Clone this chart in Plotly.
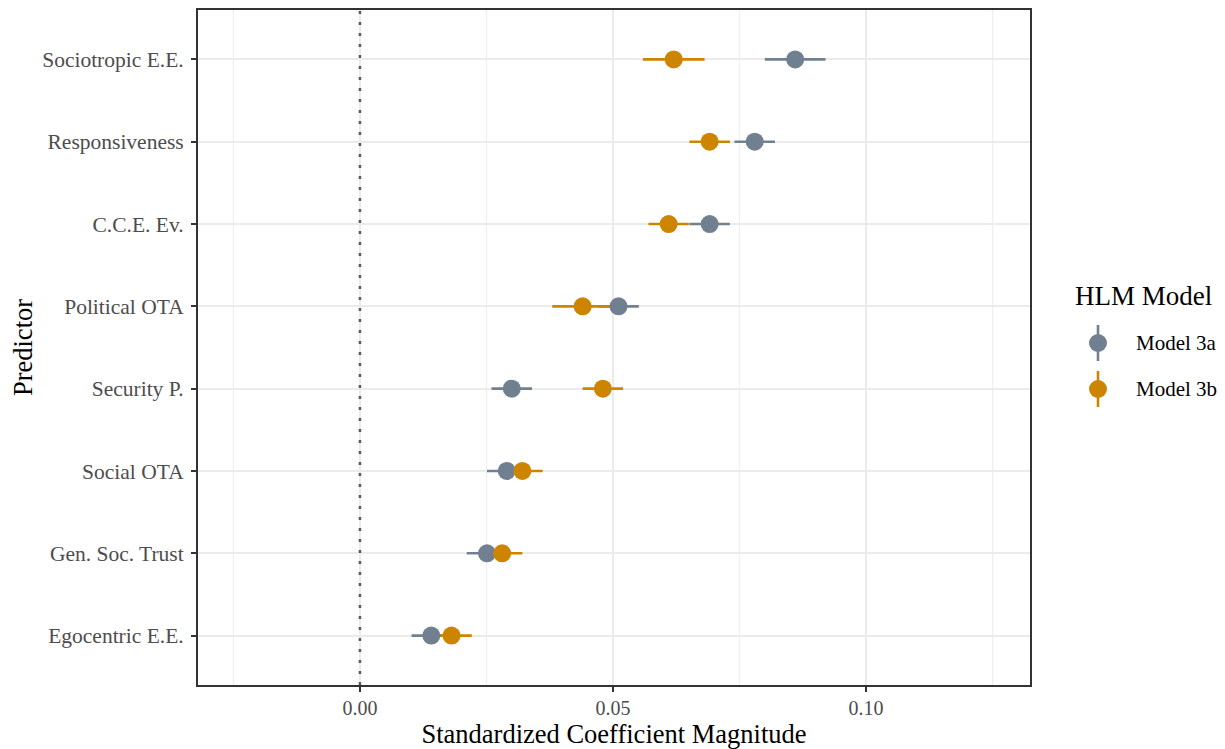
import plotly.graph_objects as go

predictors = ["Sociotropic E.E.", "Responsiveness", "C.C.E. Ev.", "Political OTA",
              "Security P.", "Social OTA", "Gen. Soc. Trust", "Egocentric E.E."]
est_3a = [0.0860, 0.0780, 0.0691, 0.0511, 0.0300, 0.0290, 0.0251, 0.0141]
err_3a = [0.0060, 0.0040, 0.0040, 0.0040, 0.0040, 0.0039, 0.0040, 0.0039]
est_3b = [0.0620, 0.0691, 0.0610, 0.0440, 0.0480, 0.0321, 0.0281, 0.0181]
err_3b = [0.0061, 0.0040, 0.0040, 0.0060, 0.0040, 0.0040, 0.0040, 0.0040]
models = ["Model 3a", "Model 3b"]
colors = ["#708090", "#CD8500"]

FONT = "Liberation Serif, Times New Roman, serif"
W, H = 1225, 749
L, R, T, B = 198, 1030, 10, 685  # plot area in pixels
ypos = list(range(len(predictors)))[::-1]  # first predictor at top


def px(x):
    return (x - L) / (R - L)


def py(y):
    return (B - y) / (B - T)


fig = go.Figure()
# error bars first (all), then points
for est, err, col in [(est_3a, err_3a, colors[0]), (est_3b, err_3b, colors[1])]:
    fig.add_trace(go.Scatter(x=est, y=ypos, mode="markers",
                             marker=dict(size=1, color="rgba(0,0,0,0)"),
                             error_x=dict(type="data", array=err, color=col,
                                          thickness=2.6, width=0),
                             showlegend=False, hoverinfo="skip"))
for est, col, name in [(est_3a, colors[0], models[0]), (est_3b, colors[1], models[1])]:
    fig.add_trace(go.Scatter(x=est, y=ypos, mode="markers", name=name,
                             marker=dict(size=18, color=col, line=dict(width=0)),
                             showlegend=False))

# dotted zero line
fig.add_shape(type="line", x0=0, x1=0, y0=0, y1=1, xref="x", yref="paper",
              line=dict(color="#5A5A5A", width=2.5, dash="3px,8px"), layer="above")

# minor grid lines
for v in [-0.025, 0.025, 0.075, 0.125]:
    fig.add_shape(type="line", x0=v, x1=v, y0=0, y1=1, xref="x", yref="paper",
                  line=dict(color="#EFEFEF", width=1.3), layer="below")

# manual legend
fig.add_annotation(x=px(1143), y=py(296), xref="paper", yref="paper",
                   text="HLM Model", showarrow=False, xanchor="center", yanchor="middle",
                   font=dict(family=FONT, size=27, color="#000000"))
for i, (name, col) in enumerate(zip(models, colors)):
    yc = 343 + i * 46
    fig.add_shape(type="line", xref="paper", yref="paper",
                  x0=px(1098), x1=px(1098), y0=py(yc - 18), y1=py(yc + 18),
                  line=dict(color=col, width=2.6))
    fig.add_shape(type="circle", xref="paper", yref="paper",
                  x0=px(1098 - 9), x1=px(1098 + 9), y0=py(yc - 9), y1=py(yc + 9),
                  fillcolor=col, line=dict(width=0))
    fig.add_annotation(x=px(1134), y=py(yc), xref="paper", yref="paper",
                       text=name, showarrow=False, xanchor="left", yanchor="middle",
                       font=dict(family=FONT, size=21, color="#000000"))

fig.update_layout(
    width=W, height=H,
    margin=dict(l=L, r=W - R, t=T, b=H - B, autoexpand=False),
    paper_bgcolor="white", plot_bgcolor="white",
    font=dict(family=FONT),
    showlegend=False,
    xaxis=dict(range=[-0.0320, 0.1324], tickvals=[0, 0.05, 0.10],
               ticktext=["0.00", "0.05", "0.10"], automargin=False,
               showgrid=True, gridcolor="#EBEBEB", gridwidth=2, zeroline=False,
               showline=True, linecolor="#333333", linewidth=2, mirror=True,
               ticks="outside", ticklen=5, tickcolor="#333333", tickwidth=2,
               ticklabelstandoff=-1,
               tickfont=dict(family=FONT, size=20, color="#4D4D4D"),
               title=dict(text="Standardized Coefficient Magnitude",
                          font=dict(family=FONT, size=26.5, color="#000000"), standoff=7)),
    yaxis=dict(range=[-0.6, 7.6], tickvals=ypos, ticktext=predictors, automargin=False,
               showgrid=True, gridcolor="#EBEBEB", gridwidth=2, zeroline=False,
               showline=True, linecolor="#333333", linewidth=2, mirror=True,
               ticks="outside", ticklen=5, tickcolor="#333333", tickwidth=2,
               ticklabelstandoff=3,
               tickfont=dict(family=FONT, size=21.5, color="#4D4D4D"),
               title=dict(text="Predictor",
                          font=dict(family=FONT, size=26.5, color="#000000"), standoff=2)),
)

fig.write_html("out.html", config={"displayModeBar": False},
               post_script="document.body.style.margin='0px';document.body.style.overflow='hidden';")
